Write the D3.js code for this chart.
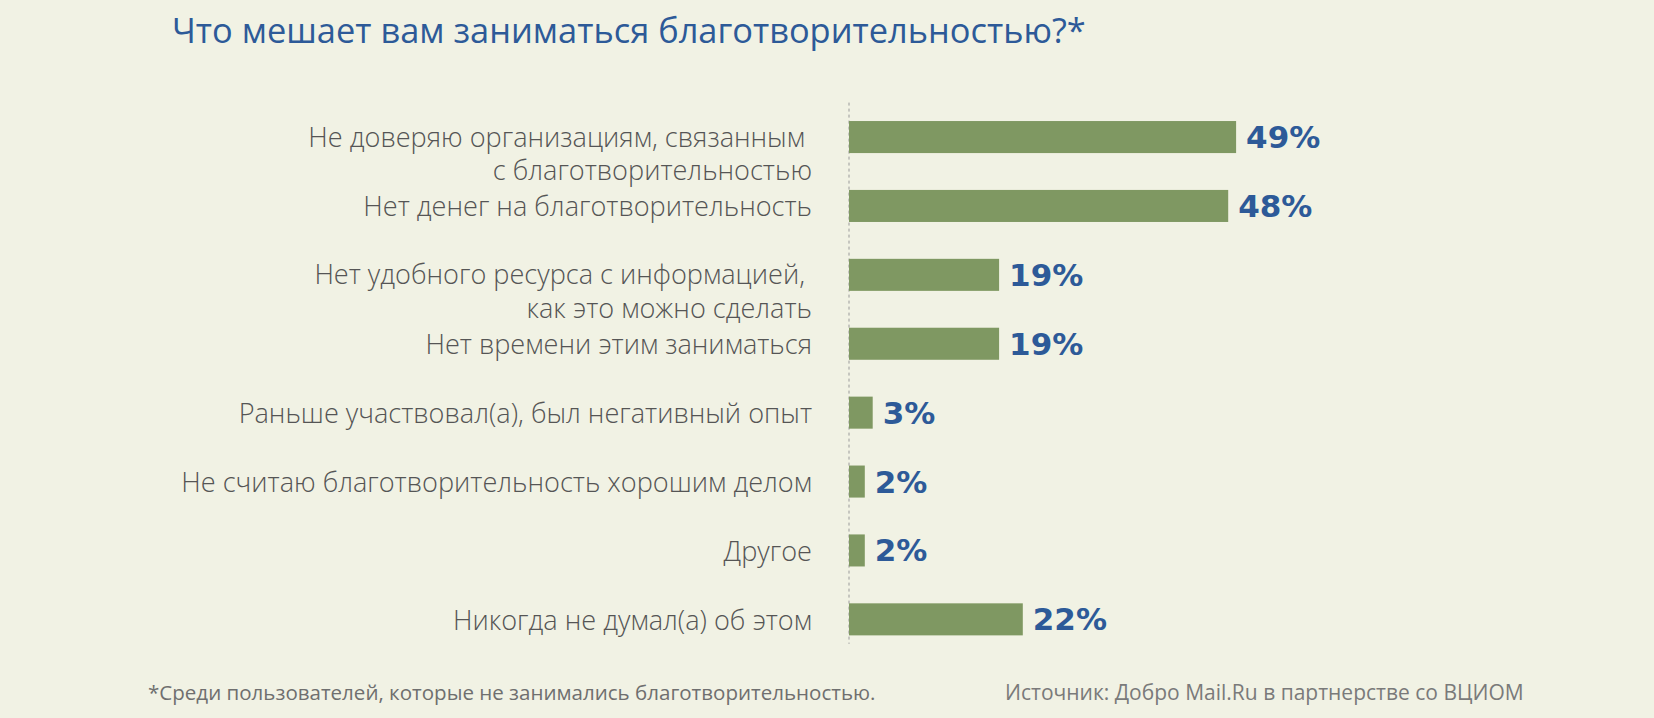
<!DOCTYPE html>
<html>
<head>
<meta charset="utf-8">
<script src="https://cdn.jsdelivr.net/npm/d3@7"></script>
<style>
  html, body { margin: 0; padding: 0; background: #f1f2e4; }
  svg { display: block; }
</style>
</head>
<body>
<svg id="chart" width="1654" height="718"></svg>
<script>
const title = "Что мешает вам заниматься благотворительностью?*";
const categories = [
  "Не доверяю организациям, связанным\u00a0\nс благотворительностью",
  "Нет денег на благотворительность",
  "Нет удобного ресурса с информацией,\u00a0\nкак это можно сделать",
  "Нет времени этим заниматься",
  "Раньше участвовал(а), был негативный опыт",
  "Не считаю благотворительность хорошим делом",
  "Другое",
  "Никогда не думал(а) об этом"
];
const values = [49, 48, 19, 19, 3, 2, 2, 22];
const footnote = "*Среди пользователей, которые не занимались благотворительностью.";
const source = "Источник: Добро Mail.Ru в партнерстве со ВЦИОМ";

const W = 1654, H = 718;
const svg = d3.select("#chart");
svg.append("rect").attr("width", W).attr("height", H).attr("fill", "#f1f2e4");

const x = d3.scaleLinear().domain([0, 50]).range([849, 1244]);
const y = d3.scaleBand().domain(categories).range([102.6, 653.8])
  .paddingInner(0.535).paddingOuter(0.2675);

const blue = "#2d5a98";
const gray = "#555555";

function fitFont(sel, target, base) {
  sel.attr("font-size", base);
  const w = sel.node().getComputedTextLength();
  sel.attr("font-size", base * target / w);
  return base * target / w;
}

// Title
const t = svg.append("text").attr("x", 172).attr("y", 43)
  .attr("font-family", "'Open Sans', 'Noto Sans', sans-serif")
  .attr("fill", blue).text(title);
fitFont(t, 914, 30);

// Dashed axis line
svg.append("line")
  .attr("x1", x(0)).attr("x2", x(0))
  .attr("y1", y.range()[0]).attr("y2", y.range()[1] - 10)
  .attr("stroke", "#9a9a9a").attr("stroke-width", 1)
  .attr("stroke-dasharray", "3,3");

// Bars
svg.append("g").selectAll("rect").data(categories).join("rect")
  .attr("x", x(0))
  .attr("y", d => y(d))
  .attr("width", (d, i) => x(values[i]) - x(0))
  .attr("height", y.bandwidth())
  .attr("fill", "#7f9862");

// Category labels
const labelFamily = "'Open Sans', 'Noto Sans', sans-serif";
const probe = svg.append("text").attr("font-family", labelFamily)
  .attr("font-weight", 300).text(categories[5]);
const labelSize = fitFont(probe, 631, 24);
probe.remove();

const lg = svg.append("g").attr("font-family", labelFamily)
  .attr("font-weight", 300).attr("font-size", labelSize)
  .attr("fill", gray).attr("text-anchor", "end");
categories.forEach((c, i) => {
  const lines = c.split("\n");
  const cy = y(c) + y.bandwidth() / 2 - (lines.length > 1 ? 1 : 0);
  lines.forEach((ln, j) => {
    lg.append("text").attr("x", 812).attr("y", cy + j * 33.5)
      .attr("dominant-baseline", "central")
      .style("white-space", "pre").text(ln);
  });
});

// Value labels
svg.append("g").selectAll("text").data(categories).join("text")
  .attr("x", (d, i) => x(values[i]) + 10)
  .attr("y", d => y(d) + y.bandwidth() / 2)
  .attr("dominant-baseline", "central")
  .attr("font-family", "'DejaVu Sans', 'Open Sans', sans-serif")
  .attr("font-weight", 700)
  .attr("font-size", 31)
  .attr("fill", blue)
  .text((d, i) => values[i] + "%");

// Footer
const f1 = svg.append("text").attr("x", 148).attr("y", 700)
  .attr("font-family", labelFamily).attr("fill", "#6f6f6f").text(footnote);
fitFont(f1, 728, 19);
const f2 = svg.append("text").attr("x", 1005).attr("y", 700)
  .attr("font-family", labelFamily).attr("fill", "#7a7a7a").text(source);
fitFont(f2, 519, 19);
</script>
</body>
</html>
